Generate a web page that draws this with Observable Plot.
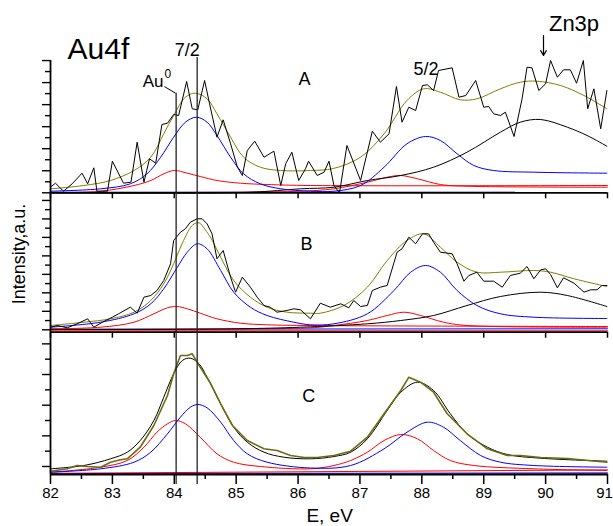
<!DOCTYPE html>
<html><head><meta charset="utf-8">
<script src="https://cdn.jsdelivr.net/npm/d3@7"></script>
<script src="https://cdn.jsdelivr.net/npm/@observablehq/plot@0.6"></script>
<style>
body{margin:0;background:#fff;}
#wrap{position:relative;width:613px;height:526px;overflow:hidden;background:#fff;}
#wrap svg{position:absolute;left:0;}
</style></head><body><div id="wrap"></div>
<script>
// ---------- DATA (E in eV, intensity in arbitrary units) ----------
const X_TICKS = [82,83,84,85,86,87,88,89,90,91];
const X_MINOR = [82.5,83.5,84.5,85.5,86.5,87.5,88.5,89.5,90.5];
const PEAK_AU0 = 84.03, PEAK_72 = 84.37;

// Panel A
const A_data = [[82.00,5.6],[82.08,9.6],[82.21,1.6],[82.35,9],[82.51,19.6],[82.60,9],[82.70,25],[82.75,1.6],[82.92,1.6],[83.00,31.6],[83.18,9.6],[83.30,10.6],[83.40,50.6],[83.51,10.6],[83.60,34],[83.70,29.6],[83.80,68.3],[83.89,69.6],[83.99,78.3],[84.07,77.3],[84.20,111.3],[84.29,84],[84.38,83],[84.49,112.3],[84.57,89],[84.69,55.6],[84.79,73],[84.91,49],[85.02,25.6],[85.10,17.3],[85.18,42.3],[85.30,51.6],[85.45,35.6],[85.61,41.6],[85.72,7.3],[85.80,29],[85.90,40.6],[86.01,12.3],[86.12,24],[86.17,31.6],[86.31,17.3],[86.42,20.6],[86.50,31.6],[86.58,7.3],[86.67,0],[86.79,47.3],[87.01,12.3],[87.20,61.6],[87.33,50.6],[87.47,59],[87.59,106.3],[87.68,70.6],[87.79,85.6],[87.90,82.3],[88.01,107.3],[88.09,108],[88.19,102.3],[88.27,122.3],[88.49,125],[88.60,95.6],[88.71,97.3],[88.87,112.3],[89.00,85.6],[89.08,86.3],[89.16,79],[89.27,77.3],[89.35,80.6],[89.49,56.3],[89.62,94],[89.70,125.6],[89.78,125],[89.89,102.3],[90.00,109],[90.08,132.3],[90.19,115.6],[90.29,123],[90.40,123],[90.50,109.6],[90.61,132.3],[90.68,84],[90.78,104],[90.89,64],[90.99,102.3]];
const A_fit = [[82.00,4],[82.54,7.3],[82.97,12.3],[83.35,22.3],[83.62,35.6],[83.83,59],[83.99,77.3],[84.18,95.6],[84.34,99.6],[84.53,94],[84.69,79],[84.91,55.6],[85.12,35.6],[85.39,25.6],[85.72,22.3],[86.20,22.3],[86.57,24.3],[87.01,35.6],[87.39,59],[87.76,92.3],[88.03,104],[88.30,100.6],[88.62,93],[88.89,94],[89.27,104],[89.59,110.6],[89.86,111.6],[90.24,107.3],[90.62,97.3],[90.99,84]];
const A_blue = [[82.0,1.6],[82.81,4],[83.29,9],[83.56,19],[83.78,35.6],[83.99,55.6],[84.18,70.6],[84.36,75.6],[84.53,70.6],[84.69,57.3],[84.91,35.6],[85.12,19],[85.39,9],[85.72,4],[86.2,1.6],[86.58,1.6],[87.01,7.3],[87.39,25.6],[87.76,49],[88.06,56.3],[88.30,52.3],[88.57,39],[88.84,27.3],[89.16,22.3],[89.81,20.6],[90.99,19.6]];
const A_red1 = [[82.0,0],[82.81,1.6],[83.35,7.3],[83.62,12.3],[83.83,19],[84.0,22.3],[84.21,19.6],[84.42,16.3],[84.69,12.3],[85.07,9.6],[85.50,8.3],[86.2,7.3],[91,7.3]];
const A_red2 = [[82,0.3],[86,1.5],[86.58,4],[87.12,10.6],[87.44,15.6],[87.66,17.3],[87.93,14],[88.30,8.3],[88.73,6.6],[91,5.6]];
const A_zn = [[82,0],[85.2,0.5],[86.04,4],[86.58,5.6],[87.12,12.3],[87.66,17.3],[88.19,25.6],[88.73,40.6],[89.27,60.6],[89.59,70.6],[89.92,73.3],[90.35,65.6],[90.67,57.3],[90.99,46.6]];
const A_base = [[82,0.6],[89.5,0.6]];

// Panel B
const B_data = [[82.00,2.6],[82.11,4.3],[82.27,2],[82.43,6],[82.60,11],[82.70,2.6],[82.84,7.6],[83.00,12.6],[83.10,16],[83.29,22.6],[83.40,16.6],[83.51,32.6],[83.62,34.3],[83.72,39.3],[83.83,49.3],[83.94,66],[83.99,89.3],[84.10,97.6],[84.18,101],[84.26,107.6],[84.37,111],[84.45,111],[84.53,106],[84.61,96],[84.69,71],[84.79,79.3],[84.91,52.6],[84.99,37.6],[85.10,52.6],[85.23,42.6],[85.34,32.6],[85.45,24.3],[85.55,22.6],[85.66,17.6],[85.82,19.3],[85.93,21],[86.04,20],[86.20,11],[86.36,26.6],[86.52,22.6],[86.69,26],[86.82,22],[86.90,29.3],[87.01,23.3],[87.12,24.3],[87.20,39.3],[87.33,42.6],[87.44,44.3],[87.60,77.6],[87.68,81],[87.79,92.6],[87.90,86],[88.01,96],[88.11,96],[88.19,87.6],[88.30,77.6],[88.49,76],[88.57,66],[88.68,48.6],[88.76,54.3],[88.89,57.6],[89.00,48.6],[89.16,48.6],[89.30,42.6],[89.43,54.3],[89.59,56.6],[89.70,63.3],[89.81,51],[89.92,60],[90.00,61],[90.08,55.3],[90.19,42],[90.29,52],[90.46,46.6],[90.62,37.6],[90.73,40],[90.83,40],[90.91,44.3],[90.99,44.3]];
const B_fit = [[82.00,4.3],[82.54,7.6],[82.97,11],[83.35,17.6],[83.62,29.3],[83.83,46],[83.99,66],[84.15,89.3],[84.30,105],[84.40,107],[84.50,100],[84.59,92],[84.75,72.6],[84.96,49.3],[85.23,32.6],[85.50,22.6],[85.82,17.6],[86.20,16.6],[86.36,16.6],[86.74,24.3],[87.12,42.6],[87.44,69.3],[87.76,89.3],[88.03,96],[88.30,82.6],[88.57,67.6],[88.89,57.6],[89.27,57.6],[89.81,59.3],[90.08,57.6],[90.46,51],[90.99,43.3]];
const B_blue = [[82.0,2.6],[82.81,7.6],[83.35,16],[83.62,26],[83.83,41],[84.05,62.6],[84.21,77.6],[84.37,86],[84.53,81],[84.75,59.3],[84.96,37.6],[85.23,22.6],[85.50,14.3],[85.93,7.6],[86.2,5],[86.58,6],[87.12,16],[87.55,39.3],[87.82,57.6],[88.06,64.3],[88.30,57.6],[88.57,39.3],[88.89,24.3],[89.27,16],[89.81,12.6],[90.99,11.3]];
const B_red1 = [[82.0,1],[82.81,2.6],[83.35,7.6],[83.67,16],[83.89,22],[84.04,23.3],[84.21,21],[84.42,16.6],[84.69,11],[85.07,6.6],[85.50,5],[86.2,4.3],[91,3.3]];
const B_red2 = [[82,0.3],[86.2,2],[86.58,4.3],[87.12,9.3],[87.44,14.3],[87.71,17.6],[87.98,14.3],[88.35,7.6],[88.73,4.3],[91,2.6]];
const B_zn = [[82,0.3],[85,1],[86.04,2.6],[87.12,6],[87.66,9.3],[88.19,14.3],[88.73,24.3],[89.27,33.3],[89.92,37.6],[90.35,34.3],[90.99,23.3]];
const B_base_blue = [[82,0.6],[91,1]];
const B_base_red = [[82,-0.9],[91,-0.9]];

// Panel C
const C_data = [[82.0,3.3],[82.27,5.7],[82.43,9],[82.59,8],[82.81,7.3],[82.97,12.3],[83.13,14.7],[83.24,15.7],[83.45,27.3],[83.67,49],[83.89,79],[83.99,100.7],[84.10,119],[84.21,119],[84.29,120.7],[84.37,112.3],[84.59,90.7],[84.75,70.7],[84.94,49],[85.18,34],[85.45,25.7],[85.66,24],[85.88,19],[86.10,17],[86.31,17],[86.58,19],[86.85,23.3],[87.12,37.3],[87.39,60.7],[87.66,84],[87.79,97.3],[87.98,92.3],[88.19,82.3],[88.41,60.7],[88.73,40.7],[89.06,25.7],[89.38,19],[89.59,19],[89.92,17],[90.35,16],[90.99,12.3]];
const C_fit = [[82.0,5.7],[82.54,9],[82.97,15.7],[83.24,22.3],[83.45,34],[83.67,54],[83.83,77.3],[83.99,100.7],[84.13,114],[84.26,116.3],[84.40,110.7],[84.53,97.3],[84.75,70.7],[84.96,47.3],[85.18,32.3],[85.45,22.3],[85.77,17.3],[86.20,15.7],[86.58,18],[86.85,22.3],[87.12,35.7],[87.44,64],[87.66,82.3],[87.93,92.3],[88.19,84],[88.46,60.7],[88.73,40.7],[89.06,27.3],[89.38,20],[89.92,16.3],[90.99,13.3]];
const C_blue = [[82.0,2.3],[82.81,5.7],[83.35,12.3],[83.62,22.3],[83.89,40.7],[84.10,57.3],[84.26,67.3],[84.38,70],[84.53,66.7],[84.75,52.3],[84.96,34],[85.18,20.7],[85.50,12.3],[86.2,6.5],[86.85,9],[87.39,25.7],[87.76,42.3],[88.09,52.3],[88.35,47.3],[88.62,34],[88.95,19],[89.27,12.3],[89.81,9],[90.99,7.3]];
const C_red = [[82.0,2.3],[82.81,7.3],[83.24,14],[83.51,27.3],[83.72,42.3],[83.89,50.7],[84.02,54],[84.18,50.7],[84.42,37.3],[84.69,20.7],[84.96,12.3],[85.39,8],[86.2,5.7],[86.58,9],[86.85,14],[87.12,22.3],[87.39,34],[87.66,40],[87.93,35.7],[88.19,24],[88.46,14],[88.84,9],[89.81,5.7],[90.99,4]];
const C_base_red = [[82,1.2],[91,4.6]];
const C_base_blue = [[82,0.9],[91,1.6]];
const C_base_purple = [[82,0.3],[91,0.5]];

// Tick sets on the intensity axes (unlabelled)
const A_TICKS = d3.range(13).map(i => i * 11.02);
const B_TICKS = d3.range(15).map(i => i * 9.24);
const C_TICKS = d3.range(9).map(i => 8 + i * 15.33);

// ---------- DRAWING ----------
const FONT = '"Liberation Sans", Arial, Helvetica, sans-serif';
const W = 613, ML = 50, MR = 6;
const OLIVE = "#808000", BLUE = "#0000ff", RED = "#ff0000";
const pts = a => a.map(([e, h]) => ({e, h}));
const smooth = (a, stroke, w = 1) => Plot.line(pts(a), {x: "e", y: "h", stroke, strokeWidth: w, curve: "catmull-rom"});
const raw = (a, stroke, w = 1) => Plot.line(pts(a), {x: "e", y: "h", stroke, strokeWidth: w});
const lbl = (t, x, y, size, anchor = "start") => Plot.text([t], {x, y, text: d => d, fontSize: size, textAnchor: anchor, fill: "black"});
const yTicks = (ticks) => [
  Plot.axisY(ticks.filter((d, i) => i % 2 === 0), {tickSize: 8, tickFormat: () => "", label: null, strokeWidth: 1.4}),
  Plot.axisY(ticks.filter((d, i) => i % 2 === 1), {tickSize: 5, tickFormat: () => "", label: null, strokeWidth: 1.4})
];
const base = (h, mt, mb, domain, marks) => Plot.plot({
  width: W, height: h, marginLeft: ML, marginRight: MR, marginTop: mt, marginBottom: mb,
  x: {domain: [82, 91], axis: null, label: null},
  y: {domain, axis: null, label: null},
  style: {background: "transparent", overflow: "visible", fontFamily: FONT, color: "black"},
  marks
});
const vlines = (y1a, y1b, y2a, y2b) => [
  Plot.ruleX([PEAK_AU0], {y1: y1a, y2: y2a, stroke: "#222", strokeWidth: 1.3}),
  Plot.ruleX([PEAK_72], {y1: y1b, y2: y2b, stroke: "#222", strokeWidth: 1.3})
];

const pA = base(200, 60, 7.7, [0, 132.3], [
  smooth(A_base, BLUE),
  smooth(A_red2, RED), smooth(A_red1, RED), smooth(A_zn, "black"), smooth(A_blue, BLUE),
  smooth(A_fit, OLIVE), raw(A_data, "black"),
  ...vlines(0, 0, 99.6, 135.3),
  Plot.link([0], {x1: 83.84, y1: 106.3, x2: 84.02, y2: 99.6, stroke: "black", strokeWidth: 1}),
  Plot.arrow([0], {x1: 89.966, y1: 157.3, x2: 89.966, y2: 137.3, stroke: "black", strokeWidth: 1.2, headLength: 7}),
  Plot.ruleX([82], {y1: 0, y2: 132.3, strokeWidth: 1.8}),
  Plot.ruleY([0], {strokeWidth: 1.8}),
  ...yTicks(A_TICKS),
  Plot.axisX({ticks: X_TICKS, tickSize: 6, tickFormat: () => "", label: null, strokeWidth: 1.5}),
  lbl("Au4f", 82.275, 143.6, 30),
  lbl("7/2", 84.21, 142.1, 18, "middle"),
  lbl("Au", 83.826, 111.7, 17, "end"),
  lbl("0", 83.842, 118.8, 12),
  lbl("A", 86.007, 113.1, 18),
  lbl("5/2", 87.865, 123.1, 18),
  lbl("Zn3p", 90.459, 168.6, 22, "middle")
]);

const pB = base(160, 11.7, 8.3, [-2.4, 137.6], [
  smooth(B_base_red, "#ff5050", 1.5), smooth(B_base_blue, BLUE),
  smooth(B_red2, RED), smooth(B_red1, RED), smooth(B_zn, "black"), smooth(B_blue, BLUE),
  smooth(B_fit, OLIVE), raw(B_data, "black"),
  ...vlines(-2.4, -2.4, 137.6, 137.6),
  Plot.ruleX([82], {y1: -2.4, y2: 137.6, strokeWidth: 1.8}),
  Plot.ruleY([-2.4], {strokeWidth: 1.8}),
  ...yTicks(B_TICKS),
  Plot.axisX({ticks: X_TICKS, tickSize: 6, tickFormat: () => "", label: null, strokeWidth: 1.5}),
  lbl("B", 86.04, 85.1, 18),
  Plot.text(["Intensity,a.u."], {x: 81.502, y: 75.8, text: d => d, rotate: -90, fontSize: 18, fill: "black"})
]);

const pC = base(206, 11.7, 52, [0, 142.3], [
  smooth(C_base_red, RED), smooth(C_base_blue, BLUE), smooth(C_base_purple, "#6a2aa0", 1.5),
  smooth(C_red, RED), smooth(C_blue, BLUE), smooth(C_fit, "black"),
  raw(C_data, "#6b6b12", 1.6),
  ...vlines(-10, -10, 142.3, 142.3),
  Plot.ruleX([82], {y1: 0, y2: 142.3, strokeWidth: 1.8}),
  Plot.ruleY([0], {strokeWidth: 1.8}),
  ...yTicks(C_TICKS),
  Plot.axisX({ticks: X_MINOR, tickSize: 5, tickFormat: () => "", label: null, strokeWidth: 1.5}),
  Plot.axisX({ticks: X_TICKS, tickSize: 10, tickFormat: () => "", label: null, strokeWidth: 1.5}),
  Plot.text(X_TICKS.filter(d => d < 91), {x: d => d, text: d => String(d), frameAnchor: "bottom", lineAnchor: "top", dy: 13, fontSize: 15, fill: "black"}),
  Plot.text(X_TICKS.filter(d => d === 91), {x: d => d, text: d => String(d), frameAnchor: "bottom", lineAnchor: "top", dy: 13, dx: -3, fontSize: 15, fill: "black"}),
  lbl("C", 86.067, 78.1, 18),
  lbl("E, eV", 86.51, -41, 19, "middle")
]);

const wrap = document.getElementById("wrap");
[[pA, 0], [pB, 180], [pC, 320]].forEach(([svg, top]) => { svg.style.top = top + "px"; wrap.appendChild(svg); });
</script></body></html>
